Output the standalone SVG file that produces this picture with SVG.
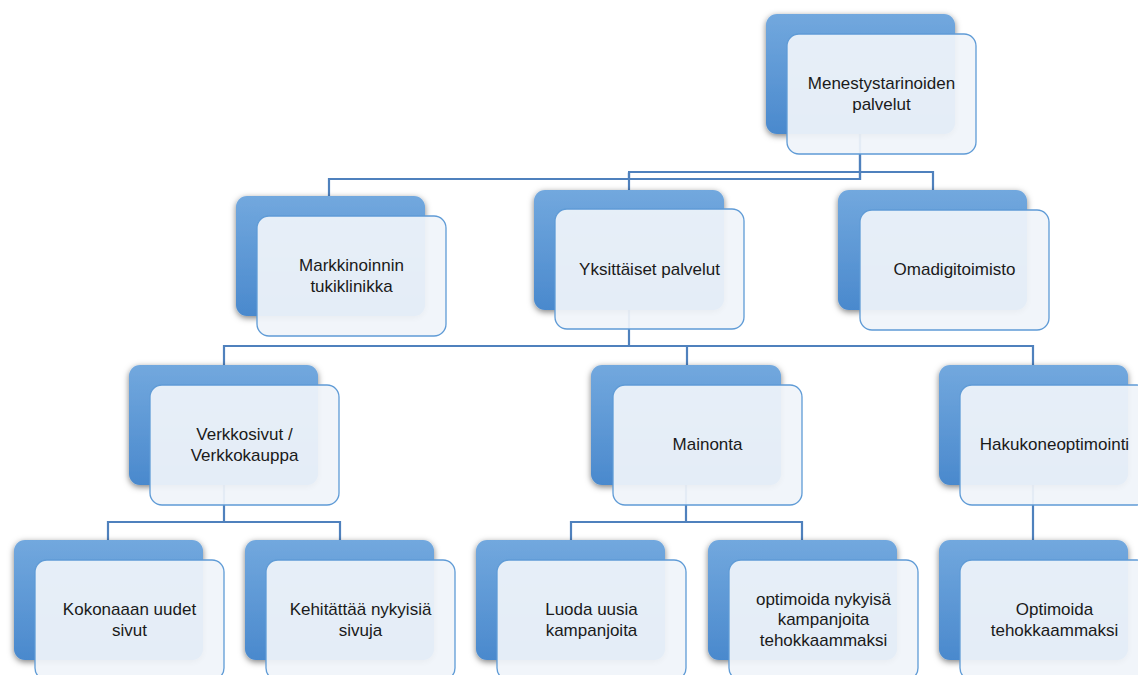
<svg xmlns="http://www.w3.org/2000/svg" width="1138" height="675" viewBox="0 0 1138 675">
  <defs>
    <linearGradient id="backFill" x1="0" y1="0" x2="0" y2="1">
      <stop offset="0" stop-color="#72a8de"/>
      <stop offset="1" stop-color="#4a89cd"/>
    </linearGradient>
    <filter id="shade" x="-10%" y="-10%" width="120%" height="125%">
      <feDropShadow dx="0" dy="2" stdDeviation="3" flood-color="#000" flood-opacity="0.5"/>
    </filter>
    <style>
      .back { fill: url(#backFill); filter: url(#shade); }
      .front { fill: #f0f4fa; fill-opacity: 0.93; stroke: #5f9bd6; stroke-width: 1.3; }
      .lbl { font-family: "Liberation Sans", Arial, sans-serif; font-size: 17px; fill: #1a1a1a; text-anchor: middle; }
      .conn { fill: none; stroke: #4f81bd; stroke-width: 2.2; }
    </style>
  </defs>
  <rect width="1138" height="675" fill="#ffffff"/>

  <!-- connectors (drawn under the boxes) -->
  <g id="connectors" class="conn">
    <path d="M860,134 V179 H329 V196"/>
    <path d="M860,134 V179 H629 V173"/>
    <path d="M629,172 V190"/>
    <path d="M628,172 H933 V190"/>
    <path d="M629,309 V346 H224 V365"/>
    <path d="M629,346 H1033 V365"/>
    <path d="M687,346 V365"/>
    <path d="M224,485 V522 H108 V540"/>
    <path d="M224,522 H340 V540"/>
    <path d="M686,485 V522 H571 V540"/>
    <path d="M686,522 H802 V540"/>
    <path d="M1033,484 V540"/>
  </g>

  <!-- level 1 -->
  <g id="menestystarinoiden">
    <rect class="back" x="766" y="14" width="189" height="120" rx="11"/>
    <rect class="front" x="787" y="34" width="189" height="120" rx="12"/>
    <text class="lbl" x="881.5" y="89">Menestystarinoiden</text>
    <text class="lbl" x="881.5" y="110">palvelut</text>
  </g>

  <!-- level 2 -->
  <g id="markkinoinnin">
    <rect class="back" x="236" y="196" width="189" height="120" rx="11"/>
    <rect class="front" x="257" y="216" width="189" height="120" rx="12"/>
    <text class="lbl" x="351.5" y="270.5">Markkinoinnin</text>
    <text class="lbl" x="351.5" y="291.5">tukiklinikka</text>
  </g>
  <g id="yksittaiset">
    <rect class="back" x="534" y="190" width="190" height="120" rx="11"/>
    <rect class="front" x="555" y="209" width="189" height="120" rx="12"/>
    <text class="lbl" x="649.5" y="274.5">Yksittäiset palvelut</text>
  </g>
  <g id="omadigitoimisto">
    <rect class="back" x="838" y="190" width="189" height="120" rx="11"/>
    <rect class="front" x="860" y="210" width="189" height="120" rx="12"/>
    <text class="lbl" x="954.5" y="275">Omadigitoimisto</text>
  </g>

  <!-- level 3 -->
  <g id="verkkosivut">
    <rect class="back" x="129" y="365" width="189" height="120" rx="11"/>
    <rect class="front" x="150" y="385" width="189" height="120" rx="12"/>
    <text class="lbl" x="244.5" y="439.5">Verkkosivut /</text>
    <text class="lbl" x="244.5" y="460.5">Verkkokauppa</text>
  </g>
  <g id="mainonta">
    <rect class="back" x="591" y="365" width="190" height="120" rx="11"/>
    <rect class="front" x="613" y="385" width="189" height="120" rx="12"/>
    <text class="lbl" x="707.5" y="450">Mainonta</text>
  </g>
  <g id="hakukoneoptimointi">
    <rect class="back" x="939" y="365" width="189" height="120" rx="11"/>
    <rect class="front" x="960" y="385" width="189" height="120" rx="12"/>
    <text class="lbl" x="1054.5" y="450">Hakukoneoptimointi</text>
  </g>

  <!-- level 4 -->
  <g id="kokonaan-uudet">
    <rect class="back" x="14" y="540" width="189" height="120" rx="11"/>
    <rect class="front" x="35" y="560" width="189" height="120" rx="12"/>
    <text class="lbl" x="129.5" y="615">Kokonaaan uudet</text>
    <text class="lbl" x="129.5" y="636">sivut</text>
  </g>
  <g id="kehittaa">
    <rect class="back" x="245" y="540" width="189" height="120" rx="11"/>
    <rect class="front" x="266" y="560" width="189" height="120" rx="12"/>
    <text class="lbl" x="360.5" y="615">Kehitättää nykyisiä</text>
    <text class="lbl" x="360.5" y="636">sivuja</text>
  </g>
  <g id="luoda">
    <rect class="back" x="476" y="540" width="189" height="120" rx="11"/>
    <rect class="front" x="497" y="560" width="189" height="120" rx="12"/>
    <text class="lbl" x="591.5" y="615">Luoda uusia</text>
    <text class="lbl" x="591.5" y="636">kampanjoita</text>
  </g>
  <g id="optimoida-nykyisia">
    <rect class="back" x="708" y="540" width="189" height="120" rx="11"/>
    <rect class="front" x="729" y="560" width="189" height="120" rx="12"/>
    <text class="lbl" x="823.5" y="604.5">optimoida nykyisä</text>
    <text class="lbl" x="823.5" y="625">kampanjoita</text>
    <text class="lbl" x="823.5" y="645.5">tehokkaammaksi</text>
  </g>
  <g id="optimoida-tehokkaammaksi">
    <rect class="back" x="939" y="540" width="189" height="120" rx="11"/>
    <rect class="front" x="960" y="560" width="189" height="120" rx="12"/>
    <text class="lbl" x="1054.5" y="615">Optimoida</text>
    <text class="lbl" x="1054.5" y="636">tehokkaammaksi</text>
  </g>
</svg>
